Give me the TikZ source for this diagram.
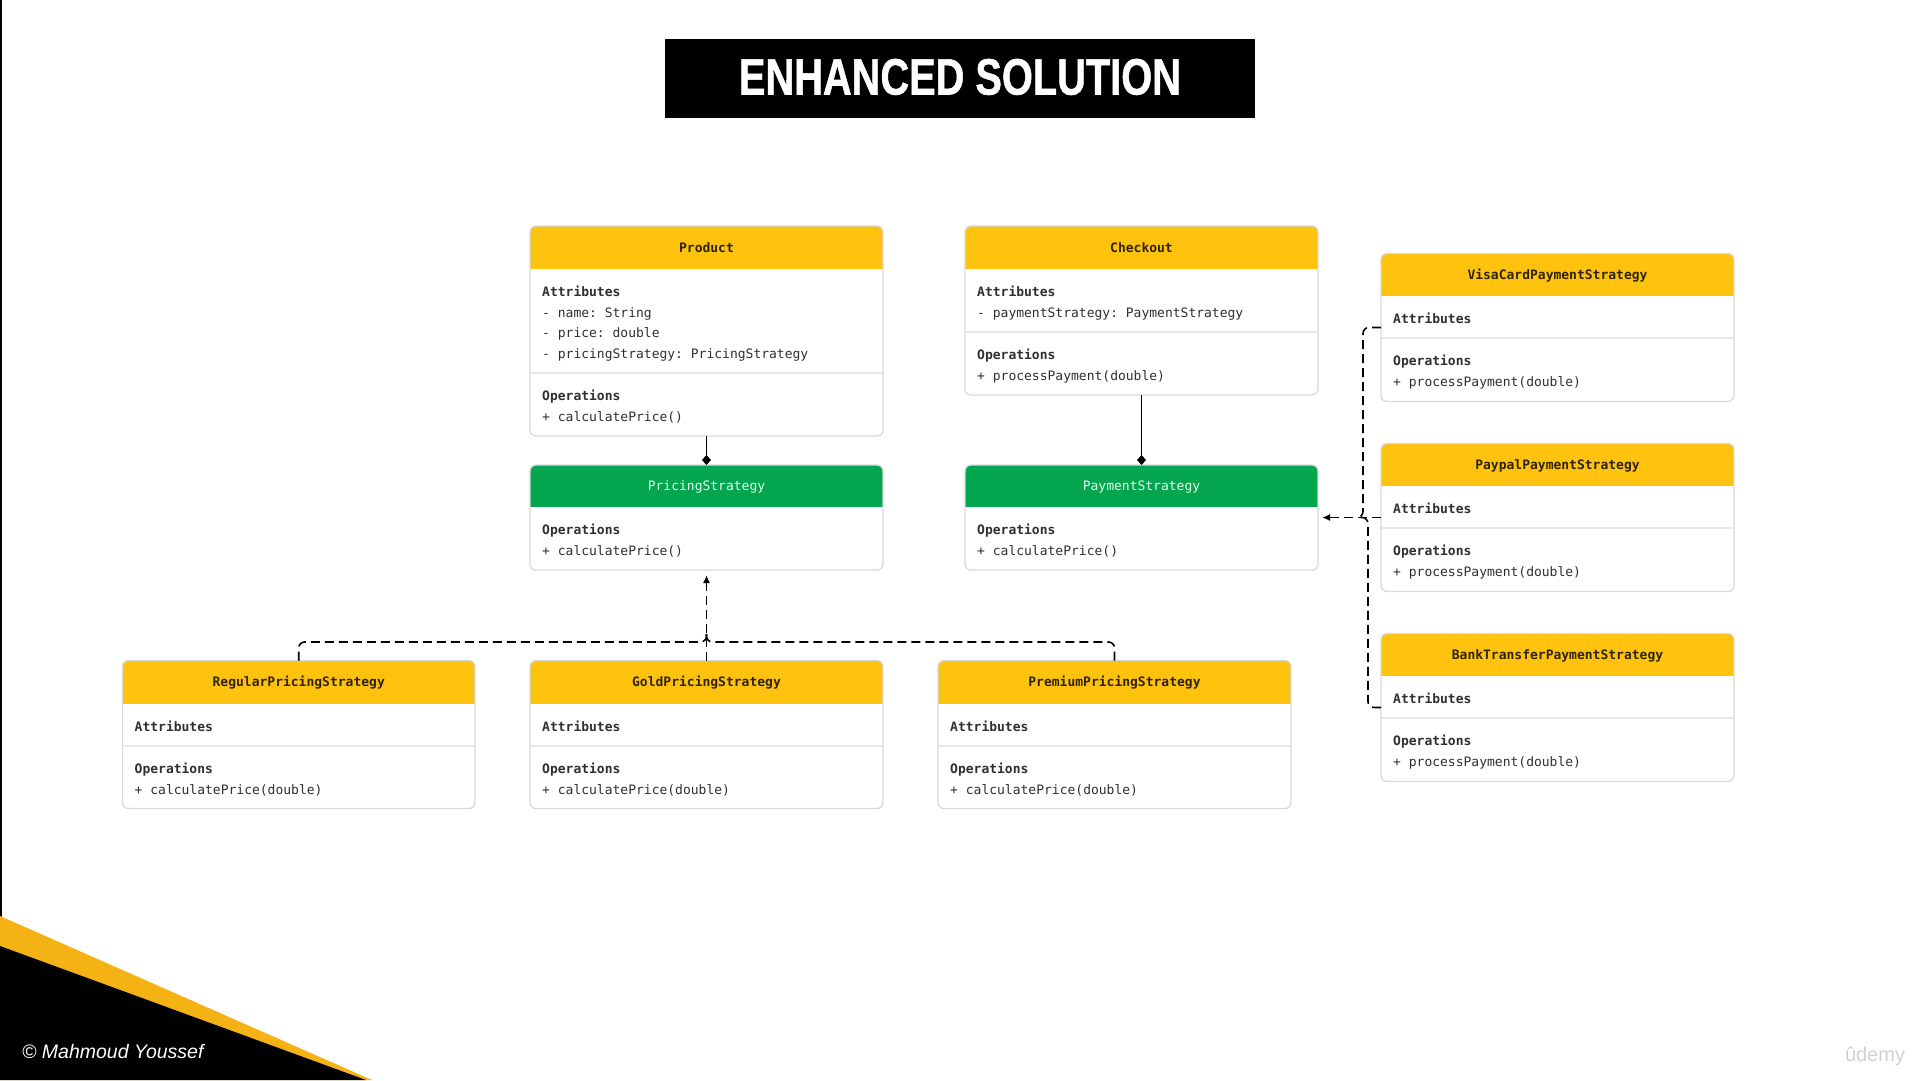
\documentclass[tikz,border=0pt]{standalone}
\usepackage{fontspec}
\setmainfont{Liberation Sans}
\setmonofont{DejaVu Sans Mono}
\newfontfamily\headlinefont{Liberation Sans}[BoldFeatures={FakeBold=1.2}]
\usetikzlibrary{arrows.meta}

\definecolor{hdryellow}{RGB}{255,194,14}
\definecolor{hdrgreen}{RGB}{3,166,78}
\definecolor{mint}{RGB}{222,255,234}
\definecolor{boxline}{RGB}{218,218,218}
\definecolor{divline}{RGB}{232,232,232}
\definecolor{bodytext}{RGB}{48,48,48}
\definecolor{titletext}{RGB}{48,36,6}
\definecolor{stripe}{RGB}{245,178,20}

\tikzset{
  classbody/.style={fill=white, draw=none, inner sep=0pt, outer sep=0pt, anchor=north west},
  boxborder/.style={draw=boxline, line width=1.3pt, rounded corners=6pt},
  divider/.style={draw=divline, line width=2pt},
  hdrtitle/.style={anchor=base, inner sep=0pt, font=\ttfamily\bfseries\fontsize{13}{16}\selectfont, text=titletext},
  greentitle/.style={anchor=base, inner sep=0pt, font=\ttfamily\fontsize{13}{16}\selectfont, text=mint},
  sectext/.style={anchor=north west, inner sep=0pt, align=left, text=bodytext,
    font=\ttfamily\fontsize{13}{20.5}\selectfont},
  solidconn/.style={draw=black, line width=1.6pt},
  dep/.style={draw=black, line width=1.6pt, dash pattern=on 9pt off 5pt, rounded corners=6pt},
  diamondend/.style={-{Diamond[length=10pt,width=9pt]}},
  arrowend/.style={-{Latex[length=8pt,width=7pt]}},
}

% name, x1, y1, x2, y2, header bottom, header colour
\newcommand{\umlbox}[7]{%
  \node[classbody, minimum width={(#4-#2)*1pt}, minimum height={(#5-#3)*1pt}] (#1) at (#2,#3) {};
  \begin{scope}
    \clip[rounded corners=6pt] (#1.north west) rectangle (#1.south east);
    \fill[#7] (#1.north west) rectangle (#4,#6);
  \end{scope}
}
\newcommand{\umlborder}[1]{\draw[boxborder] (#1.north west) rectangle (#1.south east);}
% name, x1, section top, text
\newcommand{\umlsec}[4]{\node[sectext] (#1) at (#2+12,#3+17) {\rule{0pt}{10pt}#4};}

\begin{document}
\begin{tikzpicture}[x=1pt,y=-1pt]
\useasboundingbox (0,0) rectangle (1920,1080);
\fill[white] (0,0) rectangle (1920,1080);
\fill[black] (0,0) rectangle (1.5,1080);

% title
\fill[black] (665,39) rectangle (1255,118);
\node[anchor=base, inner sep=0pt, text=white, font=\headlinefont\bfseries\fontsize{51}{51}\selectfont] (title) at (960,94.5) {\scalebox{0.78}[1]{ENHANCED SOLUTION}};

% ---------- Product ----------
\umlbox{prod}{530}{226}{883}{436}{269}{hdryellow}
\draw[divider] (530,373) -- (883,373);
\umlborder{prod}
\node[hdrtitle] (prod-t) at (706.5,252.5) {Product};
\umlsec{prod-a}{530}{269}{\textbf{Attributes}\\- name: String\\- price: double\\- pricingStrategy: PricingStrategy}
\umlsec{prod-o}{530}{373}{\textbf{Operations}\\+ calculatePrice()}

% ---------- Checkout ----------
\umlbox{chk}{965}{226}{1318}{395}{269}{hdryellow}
\draw[divider] (965,332) -- (1318,332);
\umlborder{chk}
\node[hdrtitle] (chk-t) at (1141.5,252.5) {Checkout};
\umlsec{chk-a}{965}{269}{\textbf{Attributes}\\- paymentStrategy: PaymentStrategy}
\umlsec{chk-o}{965}{332}{\textbf{Operations}\\+ processPayment(double)}

% ---------- PricingStrategy ----------
\umlbox{prs}{530}{465}{883}{570}{507}{hdrgreen}
\umlborder{prs}
\node[greentitle] (prs-t) at (706.5,490.5) {PricingStrategy};
\umlsec{prs-o}{530}{507}{\textbf{Operations}\\+ calculatePrice()}

% ---------- PaymentStrategy ----------
\umlbox{pys}{965}{465}{1318}{570}{507}{hdrgreen}
\umlborder{pys}
\node[greentitle] (pys-t) at (1141.5,490.5) {PaymentStrategy};
\umlsec{pys-o}{965}{507}{\textbf{Operations}\\+ calculatePrice()}

% ---------- Payment implementations ----------
\umlbox{visa}{1381}{253.5}{1734}{401.5}{296}{hdryellow}
\draw[divider] (1381,338) -- (1734,338);
\umlborder{visa}
\node[hdrtitle] (visa-t) at (1557.5,279) {VisaCardPaymentStrategy};
\umlsec{visa-a}{1381}{296}{\textbf{Attributes}}
\umlsec{visa-o}{1381}{338}{\textbf{Operations}\\+ processPayment(double)}

\umlbox{paypal}{1381}{443.5}{1734}{591.5}{486}{hdryellow}
\draw[divider] (1381,528) -- (1734,528);
\umlborder{paypal}
\node[hdrtitle] (paypal-t) at (1557.5,469) {PaypalPaymentStrategy};
\umlsec{paypal-a}{1381}{486}{\textbf{Attributes}}
\umlsec{paypal-o}{1381}{528}{\textbf{Operations}\\+ processPayment(double)}

\umlbox{bank}{1381}{633.5}{1734}{781.5}{676}{hdryellow}
\draw[divider] (1381,718) -- (1734,718);
\umlborder{bank}
\node[hdrtitle] (bank-t) at (1557.5,659) {BankTransferPaymentStrategy};
\umlsec{bank-a}{1381}{676}{\textbf{Attributes}}
\umlsec{bank-o}{1381}{718}{\textbf{Operations}\\+ processPayment(double)}

% ---------- Pricing implementations ----------
\umlbox{reg}{122.5}{660.5}{475}{808.5}{703.5}{hdryellow}
\draw[divider] (122.5,746) -- (475,746);
\umlborder{reg}
\node[hdrtitle] (reg-t) at (298.75,686.5) {RegularPricingStrategy};
\umlsec{reg-a}{122.5}{703.5}{\textbf{Attributes}}
\umlsec{reg-o}{122.5}{746}{\textbf{Operations}\\+ calculatePrice(double)}

\umlbox{gold}{530}{660.5}{883}{808.5}{703.5}{hdryellow}
\draw[divider] (530,746) -- (883,746);
\umlborder{gold}
\node[hdrtitle] (gold-t) at (706.5,686.5) {GoldPricingStrategy};
\umlsec{gold-a}{530}{703.5}{\textbf{Attributes}}
\umlsec{gold-o}{530}{746}{\textbf{Operations}\\+ calculatePrice(double)}

\umlbox{prem}{938}{660.5}{1291}{808.5}{703.5}{hdryellow}
\draw[divider] (938,746) -- (1291,746);
\umlborder{prem}
\node[hdrtitle] (prem-t) at (1114.5,686.5) {PremiumPricingStrategy};
\umlsec{prem-a}{938}{703.5}{\textbf{Attributes}}
\umlsec{prem-o}{938}{746}{\textbf{Operations}\\+ calculatePrice(double)}

% ---------- connectors ----------
\draw[solidconn, diamondend] (prod.south) -- (prs.north);
\draw[solidconn, diamondend] (chk.south) -- (pys.north);

\coordinate (bus) at (706.5,642);
\draw[dep] (reg.north) |- (bus) -- ++(0,-8);
\draw[dep] (prem.north) |- (bus) -- ++(0,-8);
\draw[dep, arrowend, shorten >=5pt] (gold.north) -- (prs.south);

\coordinate (vj) at (1363,517.5);
\coordinate (bj) at (1368,517.5);
\draw[dep] (visa.west) -| (vj) -- ++(-7,0);
\draw[dep] (bank.west) -| (bj) -- ++(-7,0);
\draw[dep, arrowend, shorten >=4pt] (paypal.west) -- (pys.east);

% ---------- footer ----------
\fill[stripe] (0,916) -- (372,1080) -- (0,1080) -- cycle;
\fill[black] (0,946) -- (366,1080) -- (0,1080) -- cycle;
\node[anchor=base west, inner sep=0pt, text=white, font=\itshape\fontsize{19.5}{20}\selectfont] (author) at (22,1058) {© Mahmoud Youssef};
\node[anchor=base, inner sep=0pt, text=black!18, font=\fontsize{20}{20}\selectfont] (udemy) at (1875,1061) {ûdemy};
\end{tikzpicture}
\end{document}
